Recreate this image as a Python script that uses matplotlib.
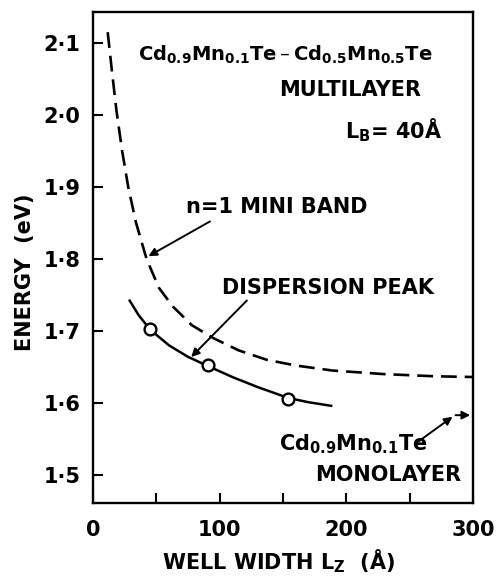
import matplotlib.pyplot as plt

plt.rcParams['font.family'] = ['DejaVu Sans']
plt.rcParams['mathtext.fontset'] = 'dejavusans'
plt.rcParams['font.weight'] = 'bold'

# dispersion peak (measured points)
peak_lz = [45, 91, 154]
peak_e = [1.702, 1.652, 1.605]

# solid curve through the peaks
fit_lz = [29, 36, 45, 60, 75, 91, 110, 130, 154, 170, 188]
fit_e = [1.742, 1.722, 1.702, 1.680, 1.664, 1.651, 1.636, 1.622, 1.607, 1.601, 1.596]

# n=1 mini band (dashed)
band_lz = [11.6, 15, 18.6, 23, 27.8, 34, 42.3, 52, 63, 78, 95, 115, 137, 160, 189, 230, 270, 300]
band_e = [2.115, 2.06, 2.005, 1.95, 1.90, 1.85, 1.80, 1.76, 1.734, 1.708, 1.690, 1.673, 1.660, 1.652, 1.645, 1.640, 1.637, 1.636]

xticks = [0, 50, 100, 150, 200, 250, 300]
xtick_labels = ['0', '', '100', '', '200', '', '300']
yticks = [1.5, 1.6, 1.7, 1.8, 1.9, 2.0, 2.1]
ytick_labels = ['1·5', '1·6', '1·7', '1·8', '1·9', '2·0', '2·1']

fs = 15
fig = plt.figure(figsize=(5.03, 5.76), dpi=100)
ax = fig.add_axes([93 / 503, 1 - 503 / 576, 380 / 503, 491 / 576])

ax.plot(band_lz, band_e, color='black', lw=1.9, ls=(0, (6, 3)))
ax.plot(fit_lz, fit_e, color='black', lw=1.8)
ax.plot(peak_lz, peak_e, 'o', ms=8.5, mfc='white', mec='black', mew=1.7)

ax.set_xlim(0, 300)
ax.set_ylim(1.461, 2.143)
ax.set_xticks(xticks)
ax.set_xticklabels(xtick_labels, fontsize=fs)
ax.set_yticks(yticks)
ax.set_yticklabels(ytick_labels, fontsize=fs)
ax.tick_params(direction='in', length=7, width=1.5)
ax.tick_params(axis='x', pad=12)
ax.tick_params(axis='y', pad=9)
for s in ax.spines.values():
    s.set_linewidth(1.7)

ax.set_ylabel('ENERGY  (eV)', fontsize=fs, fontweight='bold')
ax.yaxis.set_label_coords(-0.153, 0.47)
ax.set_xlabel('WELL WIDTH L$_{\\mathbf{Z}}$  (Å)', fontsize=fs, fontweight='bold')
ax.xaxis.set_label_coords(0.487, -0.091)

ax.text(35.4, 2.083, 'Cd$_{\\mathbf{0.9}}$Mn$_{\\mathbf{0.1}}$Te\u2009–\u2009Cd$_{\\mathbf{0.5}}$Mn$_{\\mathbf{0.5}}$Te',
        fontsize=14, ha='left', va='center')
ax.text(146.7, 2.034, 'MULTILAYER', fontsize=fs, ha='left', va='center')
ax.text(199, 1.979, 'L$_{\\mathbf{B}}$= 40Å', fontsize=fs, ha='left', va='center')
ax.text(73.4, 1.872, 'n=1 MINI BAND', fontsize=fs, ha='left', va='center')
ax.text(102, 1.760, 'DISPERSION PEAK', fontsize=fs, ha='left', va='center')
ax.text(146.7, 1.542, 'Cd$_{\\mathbf{0.9}}$Mn$_{\\mathbf{0.1}}$Te', fontsize=fs, ha='left', va='center')
ax.text(175.5, 1.500, 'MONOLAYER', fontsize=fs, ha='left', va='center')

arrow = dict(arrowstyle='-|>', color='black', lw=1.4, mutation_scale=12)
ax.annotate('', xy=(41.9, 1.802), xytext=(94.3, 1.854), arrowprops=arrow)
ax.annotate('', xy=(76, 1.661), xytext=(123, 1.745), arrowprops=arrow)
ax.annotate('', xy=(285.6, 1.583), xytext=(255, 1.544), arrowprops=arrow)
ax.annotate('', xy=(300, 1.583), xytext=(284, 1.583), arrowprops=arrow)

fig.savefig('out.png', dpi=100)
